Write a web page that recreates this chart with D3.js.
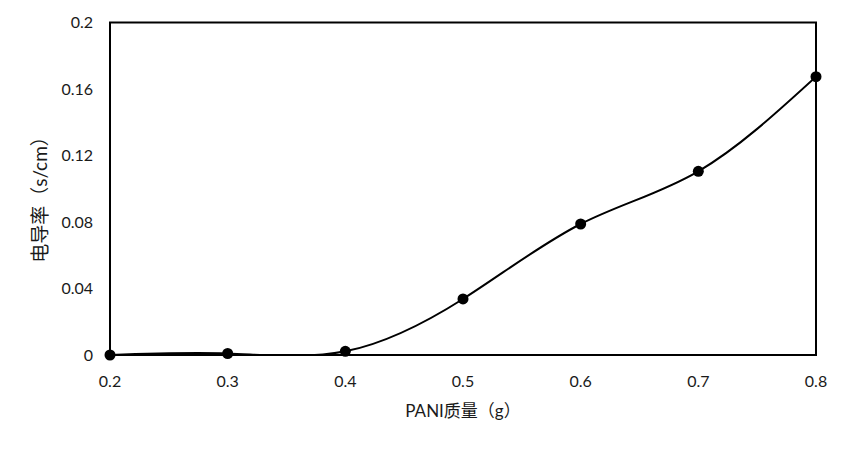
<!DOCTYPE html>
<html><head><meta charset="utf-8">
<script src="https://cdn.jsdelivr.net/npm/d3@7/dist/d3.min.js"></script>
<style>body{margin:0;background:#fff}</style>
</head><body>
<script>
const xValues = [0.2, 0.3, 0.4, 0.5, 0.6, 0.7, 0.8];
const yValues = [0, 0.0009, 0.0022, 0.0337, 0.0788, 0.1105, 0.1674];
const xTicks = [0.2, 0.3, 0.4, 0.5, 0.6, 0.7, 0.8];
const yTicks = [0, 0.04, 0.08, 0.12, 0.16, 0.2];
const xTitle = "PANI质量（g）";
const yTitle = "电导率（s/cm）";

const W = 851, H = 451;
const m = {left:110, right:35, top:22.5, bottom:96};
const svg = d3.select("body").append("svg").attr("width", W).attr("height", H);
const x = d3.scaleLinear().domain([0.2, 0.8]).range([m.left, W - m.right]);
const y = d3.scaleLinear().domain([0, 0.2]).range([H - m.bottom, m.top]);
const font = "Lato, 'Noto Sans CJK SC', sans-serif";

svg.append("defs").append("clipPath").attr("id","clip")
  .append("rect").attr("x", x(0.2)).attr("y", y(0.2))
  .attr("width", x(0.8)-x(0.2)).attr("height", y(0)-y(0.2));

// tick labels
svg.append("g").selectAll("text").data(yTicks).join("text")
  .attr("x", m.left - 17).attr("y", d => y(d)).attr("dy", "0.35em")
  .attr("text-anchor", "end").attr("font-family", font).attr("font-size", 16)
  .attr("fill", "#1a1a1a").text(d => d === 0 ? "0" : String(d));
svg.append("g").selectAll("text").data(xTicks).join("text")
  .attr("x", d => x(d)).attr("y", y(0) + 26).attr("dy", "0.35em")
  .attr("text-anchor", "middle").attr("font-family", font).attr("font-size", 16)
  .attr("fill", "#1a1a1a").text(d => String(d));

// curve
const pts = xValues.map((v, i) => [v, yValues[i]]);
svg.append("path").datum(pts).attr("clip-path", "url(#clip)")
  .attr("fill", "none").attr("stroke", "#000").attr("stroke-width", 2)
  .attr("d", d3.line().x(d => x(d[0])).y(d => y(d[1])).curve(d3.curveNatural));

// frame
svg.append("rect").attr("x", x(0.2)).attr("y", y(0.2))
  .attr("width", x(0.8)-x(0.2)).attr("height", y(0)-y(0.2))
  .attr("fill", "none").attr("stroke", "#000").attr("stroke-width", 2);

// markers
svg.append("g").selectAll("circle").data(pts).join("circle")
  .attr("cx", d => x(d[0])).attr("cy", d => y(d[1])).attr("r", 5.5).attr("fill", "#000");

// titles
svg.append("text").attr("x", (x(0.2)+x(0.8))/2).attr("y", 411).attr("dy", "0.35em")
  .attr("text-anchor", "middle").attr("font-family", font).attr("font-size", 17)
  .attr("fill", "#1a1a1a").text(xTitle);
svg.append("text").attr("transform", `translate(40,195) rotate(-90)`)
  .attr("dy", "0.35em").attr("text-anchor", "middle").attr("font-family", font)
  .attr("font-size", 19).attr("fill", "#1a1a1a").text(yTitle);
</script>
</body></html>
